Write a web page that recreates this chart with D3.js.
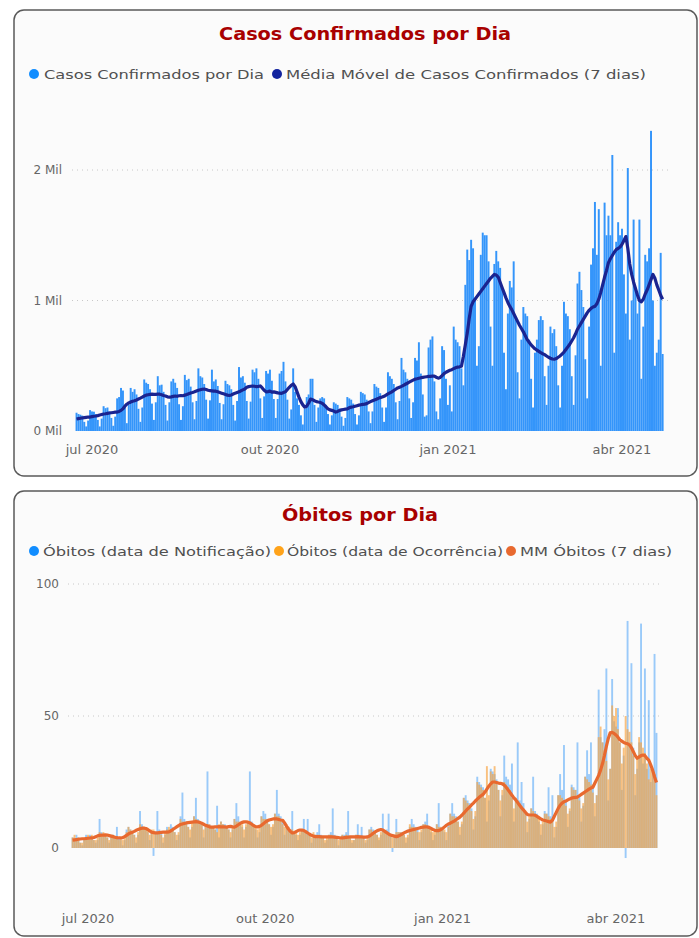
<!DOCTYPE html>
<html><head><meta charset="utf-8">
<script src="https://cdn.jsdelivr.net/npm/d3@7"></script>
<style>
body{margin:0;background:#fff;}
svg{display:block;font-family:"DejaVu Sans","Liberation Sans",Arial,sans-serif;}
</style>
</head><body>
<svg id="c" width="699" height="938"></svg>
<script>
const startDate = "2020-06-23";

const casesDaily = [
140,130,125,118,70,35,80,
160,150,148,130,85,35,95,
190,175,180,150,100,40,110,
250,260,330,310,180,60,200,
330,300,320,280,170,70,180,
395,370,360,320,210,85,220,
420,350,355,300,200,80,220,
380,400,370,330,205,85,190,
430,390,400,340,220,90,230,
480,420,410,360,240,95,235,
470,380,395,345,215,90,205,
385,360,350,320,200,80,230,
490,410,420,370,230,95,225,
470,450,480,400,250,100,265,
460,440,470,385,245,100,245,
440,460,530,380,240,95,165,
480,300,250,200,120,50,170,
260,280,400,400,200,70,180,
250,260,250,200,130,50,120,
220,210,200,170,110,40,100,
260,250,240,210,130,50,120,
300,290,280,240,150,60,150,
360,340,330,290,180,70,180,
450,420,400,360,220,90,230,
560,470,450,400,250,100,220,
560,540,680,440,280,110,120,
640,700,725,380,150,90,250,
650,620,400,200,350,150,800,
700,680,650,480,350,1120,1390,
1310,1465,1400,1000,500,650,1350,
1520,1500,1500,1300,800,500,1280,
1380,1300,1250,1100,600,320,900,
1150,1100,1300,850,450,250,700,
950,900,880,700,400,180,600,
700,850,880,850,420,200,500,
800,750,780,650,350,180,500,
990,900,880,780,420,200,580,
1130,1220,1080,950,550,250,800,
1275,1400,1755,1350,1700,500,1100,
1750,1500,1650,1500,2115,600,1450,
1600,1500,1550,1200,900,2015,700,
1000,1620,1100,900,1620,400,800,
1350,1300,1400,2300,1000,500,600,
700,1365,590
];

const casesMM = [
92,95,98,100,103,105,107,
107,110,113,115,118,122,126,
130,132,135,138,140,142,144,
145,150,158,170,190,205,215,
222,228,232,238,245,252,260,
268,275,278,280,282,280,281,
283,282,278,272,268,262,260,
262,265,268,266,270,272,270,
275,280,286,292,295,300,306,
312,316,320,322,318,312,310,
308,306,305,300,295,290,285,
280,275,272,276,283,290,295,
300,308,315,322,335,340,343,
345,343,340,342,345,330,312,
300,302,306,298,300,296,292,
290,288,295,300,318,335,350,
360,340,300,260,225,200,183,
190,215,245,240,232,225,222,
220,212,200,185,170,162,158,
153,145,150,158,162,165,168,
170,178,183,186,190,194,198,
201,204,206,210,218,225,232,
238,243,250,256,260,266,275,
284,292,300,310,320,330,336,
342,350,358,366,374,382,390,
397,400,404,408,411,414,416,
418,419,420,420,412,405,410,
425,440,450,458,465,470,478,
485,490,492,496,572,660,750,
860,955,990,1010,1030,1050,1070,
1090,1110,1130,1150,1170,1185,1200,
1195,1180,1140,1100,1060,1020,985,
955,930,900,870,840,810,785,
760,730,700,680,660,645,630,
620,610,600,592,585,575,565,
558,552,550,555,565,575,590,
605,625,645,665,690,715,745,
780,805,830,855,880,905,925,
940,950,955,975,1010,1060,1120,
1180,1230,1290,1320,1345,1370,1390,
1400,1410,1430,1460,1490,1400,1280,
1200,1140,1090,1040,1000,990,1010,
1050,1080,1120,1160,1200,1170,1120,
1080,1040,1010
];

const deathsNotif = [
4,3,5,4,2,1,3,
5,4,5,4,3,2,3,
11,6,5,5,4,2,4,
5,4,8,4,3,1,3,
7,8,7,6,5,2,5,
14,9,8,7,6,3,6,
-3,6,14,7,6,2,5,
8,7,9,8,6,3,5,
12,21,11,10,8,4,8,
12,19,11,10,9,4,8,
29,9,8,8,7,16,4,
10,9,9,8,7,4,7,
11,17,12,10,8,4,8,
10,29,10,9,7,4,6,
12,14,13,11,9,5,8,
13,22,13,12,10,5,8,
8,7,14,6,5,3,5,
7,11,6,11,5,2,4,
5,6,9,5,4,2,3,
5,6,15,5,4,1,3,
5,5,6,14,4,2,3,
5,9,5,8,4,2,3,
7,8,7,6,5,3,5,
13,6,7,13,5,-1.5,4,
11,6,6,6,5,2,4,
8,11,9,8,7,3,6,
9,10,13,8,6,3,5,
9,17,8,7,6,3,9,
13,17,13,12,10,5,9,
19,20,18,17,15,7,12,
27,25,24,23,19,10,18,
30,29,28,26,22,12,20,
35,27,26,24,32,10,18,
40,18,25,17,13,6,11,
15,27,14,13,10,5,9,
14,13,23,12,20,4,8,
20,28,22,39,18,8,14,
24,23,22,40,20,10,16,
27,37,28,40,24,12,20,
60,42,40,45,68,18,30,
64,48,46,53,40,22,35,
-3.8,86,40,70,38,20,30,
40,85,32,68,30,56,25,
30,73.5,43.6
];

const deathsOcc = [
4,5,3,4,2,2,3,
4,5,4,5,3,3,4,
6,5,6,5,4,3,5,
5,4,4,3,4,3,4,
6,8,7,6,5,4,6,
9,8,8,7,7,5,7,
7,6,6,6,5,4,6,
7,8,7,7,6,5,6,
11,10,10,9,8,7,10,
12,11,10,10,9,7,9,
9,9,8,8,7,6,9,
10,9,8,8,7,6,8,
11,10,10,9,9,7,9,
10,10,9,9,8,7,8,
12,11,11,10,9,8,9,
13,12,12,11,9,8,9,
8,7,7,6,6,5,6,
7,6,6,5,5,4,6,
5,5,5,4,4,3,4,
5,5,4,4,4,3,4,
5,4,5,4,4,3,3,
5,5,4,4,4,3,4,
7,7,6,6,5,4,6,
7,6,6,5,5,4,5,
6,6,6,5,5,4,5,
9,8,8,7,6,6,7,
9,9,8,8,7,6,7,
9,8,8,7,7,6,8,
13,12,12,11,10,8,10,
19,18,17,16,14,11,14,
25,24,23,22,19,31,20,
29,28,31,25,22,18,22,
25,24,23,22,19,15,19,
18,17,16,15,13,10,12,
15,14,13,12,11,9,10,
13,13,12,11,10,8,10,
20,20,19,18,16,13,15,
23,22,22,20,18,15,17,
27,26,25,24,21,17,20,
42,46,40,37,33,26,30,
54,50,53,45,40,32,38,
50,45,44,40,35,28,34,
42,40,38,36,32,26,30,
30,28,20
];

const deathsMM = [
3.0,3.1,3.2,3.3,3.4,3.5,3.5,
3.6,3.7,3.8,3.8,4.0,4.3,4.6,
4.8,4.9,4.9,5.0,4.9,4.7,4.5,
4.3,4.1,3.9,3.8,3.8,3.9,4.3,
4.8,5.3,5.7,6.0,6.3,6.7,7.0,
7.3,7.5,7.5,7.4,7.0,6.5,6.0,
5.8,5.7,5.7,5.8,5.9,6.0,6.0,
6.0,6.1,6.5,7.0,7.5,8.0,8.5,
8.9,9.1,9.3,9.5,9.6,9.7,9.8,
9.9,10.0,9.9,9.7,9.4,9.0,8.6,
8.3,8.0,7.9,7.9,8.0,8.0,8.1,
8.0,8.0,8.0,7.9,8.1,8.2,8.0,
7.9,8.3,8.8,9.3,9.7,9.9,9.9,
9.8,9.5,9.0,8.5,8.1,8.0,8.2,
8.6,9.2,9.8,10.3,10.6,10.8,11.0,
11.0,11.0,10.8,10.6,10.5,9.5,8.3,
7.2,6.3,5.7,5.8,6.2,6.6,6.8,
6.8,6.6,6.2,5.7,5.2,4.8,4.5,
4.3,4.3,4.3,4.2,4.2,4.2,4.2,
4.2,4.2,4.2,4.1,4.0,3.9,3.8,
3.8,3.9,4.0,4.1,4.2,4.2,4.2,
4.2,4.3,4.2,4.2,4.1,4.1,4.2,
4.5,5.0,5.6,6.1,6.5,6.8,7.0,
6.8,6.3,5.8,5.3,4.9,4.7,4.5,
4.3,4.5,4.9,5.3,5.7,6.1,6.4,
6.6,6.8,7.0,7.2,7.4,7.6,7.8,
7.9,8.0,8.0,7.8,7.4,7.0,6.7,
6.6,6.6,6.9,7.4,8.0,8.6,9.1,
9.4,9.8,10.2,10.7,11.2,11.7,12.4,
13.2,14.0,14.8,15.5,16.3,17.0,17.8,
18.5,19.2,19.8,20.3,21.2,22.3,23.4,
24.3,25.0,25.0,24.8,24.6,24.5,24.3,
23.8,23.0,22.0,21.0,20.0,19.0,18.2,
17.2,16.2,15.2,14.4,13.5,12.7,12.5,
12.5,12.5,12.4,12.0,11.5,11.0,10.6,
10.4,10.2,10.0,9.8,10.5,12.0,13.5,
15.0,16.2,17.0,17.5,17.8,18.2,18.6,
18.9,19.1,19.2,19.3,19.8,20.3,20.8,
21.3,21.8,22.3,22.7,23.0,24.5,26.0,
27.5,29.5,32.0,35.0,38.5,41.5,43.6,
43.8,43.4,42.8,42.0,41.0,40.5,40.0,
39.7,39.5,39.0,38.0,36.5,35.0,34.0,
34.5,35.0,35.2,35.0,34.0,33.3,31.5,
29.5,27.0,24.8
];

const casesTicks = [0, 1000, 2000];
const casesTickLabels = ["0 Mil", "1 Mil", "2 Mil"];
const deathTicks = [0, 50, 100];
const monthTicks = ["2020-07-01", "2020-10-01", "2021-01-01", "2021-04-01"];
const monthLabels = ["jul 2020", "out 2020", "jan 2021", "abr 2021"];

const titleCases = "Casos Confirmados por Dia";
const legendCases = ["Casos Confirmados por Dia", "Média Móvel de Casos Confirmados (7 dias)"];
const titleDeaths = "Óbitos por Dia";
const legendDeaths = ["Óbitos (data de Notificação)", "Óbitos (data de Ocorrência)", "MM Óbitos (7 dias)"];

const parse = d3.utcParse("%Y-%m-%d");
const start = parse(startDate);
const dates = casesDaily.map((_, i) => d3.utcDay.offset(start, i));
const tickDates = monthTicks.map(parse);

const svg = d3.select("#c");

function card(y0, y1) {
  svg.append("rect").attr("x", 14).attr("y", y0).attr("width", 683).attr("height", y1 - y0)
    .attr("rx", 10).attr("fill", "#fbfbfb").attr("stroke", "#5a5a5a").attr("stroke-width", 1.5);
}
card(10, 476);
card(491, 936);

function legend(items, y) {
  items.forEach(it => {
    svg.append("circle").attr("cx", it.cx).attr("cy", y).attr("r", 5).attr("fill", it.color);
    svg.append("text").attr("x", it.x).attr("y", y + 4.5).attr("fill", "#505050")
      .attr("font-size", 13).attr("textLength", it.len).attr("lengthAdjust", "spacingAndGlyphs")
      .text(it.text);
  });
}

// ---------- Chart 1 ----------
svg.append("text").attr("x", 365).attr("y", 40).attr("text-anchor", "middle")
  .attr("font-size", 18).attr("font-weight", "bold").attr("fill", "#a80000")
  .attr("textLength", 292).attr("lengthAdjust", "spacingAndGlyphs").text(titleCases);

legend([
  {cx: 34, x: 44, len: 220, color: "#118dff", text: legendCases[0]},
  {cx: 277, x: 286, len: 360, color: "#12239e", text: legendCases[1]}
], 74);

const x1 = d3.scaleUtc().domain([tickDates[0], tickDates[3]]).range([92, 622]);
const y1 = d3.scaleLinear().domain([0, 2000]).range([431, 170]);

const g1 = svg.append("g");
g1.selectAll("line.grid").data(casesTicks.slice(1)).join("line")
  .attr("x1", 72).attr("x2", 668).attr("y1", d => y1(d)).attr("y2", d => y1(d))
  .attr("stroke", "#c8c8c8").attr("stroke-width", 1).attr("stroke-dasharray", "1,4");

g1.selectAll("text.yt").data(casesTicks).join("text")
  .attr("x", 62).attr("y", d => y1(d) + 4).attr("text-anchor", "end")
  .attr("font-size", 12).attr("fill", "#666").text((d, i) => casesTickLabels[i]);

const bw1 = 1.95;
g1.selectAll("rect.bar").data(casesDaily).join("rect")
  .attr("x", (d, i) => x1(dates[i]) - bw1 / 2).attr("width", bw1)
  .attr("y", d => y1(Math.max(0, d))).attr("height", d => Math.abs(y1(d) - y1(0)))
  .attr("fill", "#3495fa");

const line1 = d3.line().x((d, i) => x1(dates[i])).y(d => y1(d));
g1.append("path").datum(casesMM).attr("d", line1).attr("fill", "none")
  .attr("stroke", "#1a2490").attr("stroke-width", 3.2).attr("stroke-linejoin", "round");

g1.selectAll("text.xt").data(tickDates).join("text")
  .attr("x", d => x1(d)).attr("y", 454).attr("text-anchor", "middle")
  .attr("font-size", 13).attr("fill", "#666").text((d, i) => monthLabels[i]);

// ---------- Chart 2 ----------
svg.append("text").attr("x", 360).attr("y", 521).attr("text-anchor", "middle")
  .attr("font-size", 18).attr("font-weight", "bold").attr("fill", "#a80000")
  .attr("textLength", 156).attr("lengthAdjust", "spacingAndGlyphs").text(titleDeaths);

legend([
  {cx: 34, x: 43, len: 228, color: "#118dff", text: legendDeaths[0]},
  {cx: 279, x: 287, len: 216, color: "#ffa31a", text: legendDeaths[1]},
  {cx: 511, x: 520, len: 152, color: "#e8692f", text: legendDeaths[2]}
], 551);

const x2 = d3.scaleUtc().domain([tickDates[0], tickDates[3]]).range([88, 616]);
const y2 = d3.scaleLinear().domain([0, 100]).range([848, 584]);

const g2 = svg.append("g");
g2.selectAll("line.grid").data(deathTicks.slice(1)).join("line")
  .attr("x1", 68).attr("x2", 662).attr("y1", d => y2(d)).attr("y2", d => y2(d))
  .attr("stroke", "#c8c8c8").attr("stroke-width", 1).attr("stroke-dasharray", "1,4");

g2.selectAll("text.yt").data(deathTicks).join("text")
  .attr("x", 59).attr("y", d => y2(d) + 4).attr("text-anchor", "end")
  .attr("font-size", 12).attr("fill", "#666").text(d => d);

const bw2 = 1.9;
g2.selectAll("rect.nb").data(deathsNotif).join("rect")
  .attr("x", (d, i) => x2(dates[i]) - bw2 / 2).attr("width", bw2)
  .attr("y", d => y2(Math.max(0, d))).attr("height", d => Math.abs(y2(d) - y2(0)))
  .attr("fill", "#4aa3f8").attr("fill-opacity", 0.55);

g2.selectAll("rect.ob").data(deathsOcc).join("rect")
  .attr("x", (d, i) => x2(dates[i]) - bw2 / 2).attr("width", bw2)
  .attr("y", d => y2(Math.max(0, d))).attr("height", d => Math.abs(y2(d) - y2(0)))
  .attr("fill", "#f7a443").attr("fill-opacity", 0.68);

const line2 = d3.line().x((d, i) => x2(dates[i])).y(d => y2(d));
g2.append("path").datum(deathsMM).attr("d", line2).attr("fill", "none")
  .attr("stroke", "#e8692f").attr("stroke-width", 3.2).attr("stroke-linejoin", "round");

g2.selectAll("text.xt").data(tickDates).join("text")
  .attr("x", d => x2(d)).attr("y", 923).attr("text-anchor", "middle")
  .attr("font-size", 13).attr("fill", "#666").text((d, i) => monthLabels[i]);
</script>
</body></html>
